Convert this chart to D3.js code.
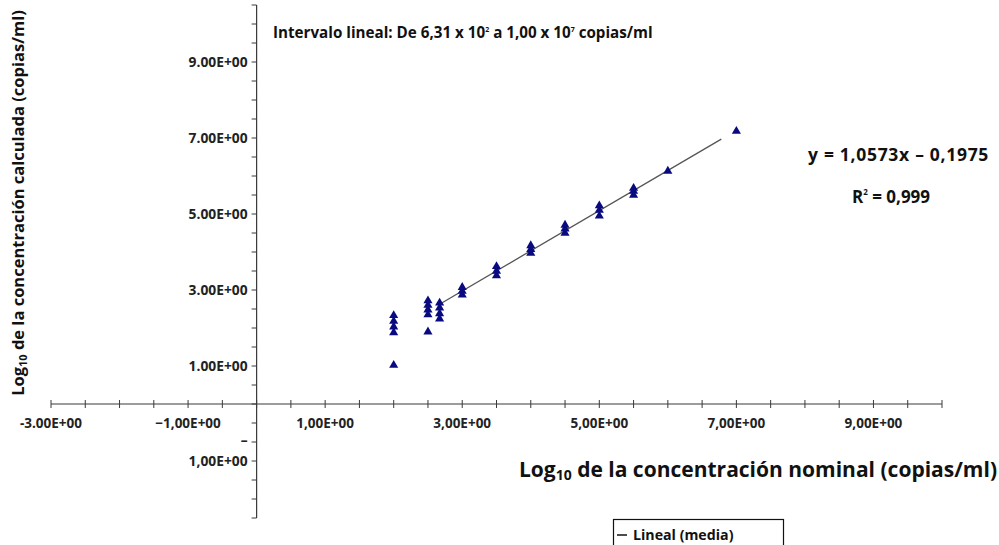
<!DOCTYPE html>
<html>
<head>
<meta charset="utf-8">
<script src="https://cdn.jsdelivr.net/npm/d3@7"></script>
<style>
  body { margin: 0; background: #fff; }
  svg { display: block; font-family: "Open Sans", Lato, sans-serif; font-weight: 700; }
</style>
</head>
<body>
<div id="chart"></div>
<script>
// nominal log10 concentration of each dilution level
var levels = [2.0, 2.5, 2.67, 3.0, 3.5, 4.0, 4.5, 5.0, 5.5, 6.0, 7.0];
// calculated log10 concentration of each replicate, per level
var replicates = [
  [2.33, 2.18, 2.03, 1.88, 1.02],
  [2.72, 2.6, 2.48, 2.35, 1.9],
  [2.66, 2.53, 2.38, 2.24],
  [3.07, 2.97, 2.87],
  [3.62, 3.5, 3.38],
  [4.17, 4.07, 3.97],
  [4.71, 4.61, 4.5],
  [5.22, 5.1, 4.95],
  [5.68, 5.6, 5.5],
  [6.13],
  [7.18]
];
// trendline "Lineal (media)"
var slope = 1.0573, intercept = -0.1975;
var trendX = [2.67, 6.78];

var xTickValues = [-3, -1, 1, 3, 5, 7, 9];
var xTickLabels = ["-3.00E+00", "\u22121,00E+00", "1,00E+00", "3,00E+00", "5,00E+00", "7,00E+00", "9,00E+00"];
var yTickValues = [9, 7, 5, 3, 1];
var yTickLabels = ["9.00E+00", "7.00E+00", "5.00E+00", "3.00E+00", "1.00E+00"];

var width = 999, height = 545;

var svg = d3.select('#chart').append('svg')
  .attr('width', width)
  .attr('height', height);

var x = d3.scaleLinear().domain([-3, 10]).range([51, 942]);
var y = d3.scaleLinear().domain([-3, 10.5]).range([518, 5]);

var axisColor = '#3a3a3a';

// minor ticks every 0.5
var xMinor = d3.range(-3, 10.01, 0.5);
var yMinor = d3.range(-3, 10.51, 0.5);

// x axis (crossing ticks)
var gx = svg.append('g');
gx.append('line')
  .attr('x1', x(-3)).attr('x2', x(10))
  .attr('y1', y(0)).attr('y2', y(0))
  .attr('stroke', axisColor).attr('stroke-width', 1.2);
gx.selectAll('line.tick').data(xMinor).enter().append('line')
  .attr('class', 'tick')
  .attr('x1', function(d) { return x(d); })
  .attr('x2', function(d) { return x(d); })
  .attr('y1', y(0) - 4).attr('y2', y(0) + 4)
  .attr('stroke', axisColor).attr('stroke-width', 1);
gx.selectAll('text').data(xTickValues).enter().append('text')
  .attr('x', function(d) { return x(d); })
  .attr('y', y(0) + 24)
  .attr('text-anchor', 'middle')
  .attr('font-size', 13.5)
  .attr('fill', '#222')
  .text(function(d, i) { return xTickLabels[i]; });

// y axis (ticks on the left)
var gy = svg.append('g');
gy.append('line')
  .attr('x1', x(0)).attr('x2', x(0))
  .attr('y1', y(-3)).attr('y2', y(10.5))
  .attr('stroke', axisColor).attr('stroke-width', 1.2);
gy.selectAll('line.tick').data(yMinor).enter().append('line')
  .attr('class', 'tick')
  .attr('x1', x(0) - 5).attr('x2', x(0))
  .attr('y1', function(d) { return y(d); })
  .attr('y2', function(d) { return y(d); })
  .attr('stroke', axisColor).attr('stroke-width', 1);
gy.selectAll('text').data(yTickValues).enter().append('text')
  .attr('x', x(0) - 9)
  .attr('y', function(d) { return y(d) + 5; })
  .attr('text-anchor', 'end')
  .attr('font-size', 13.8)
  .attr('fill', '#222')
  .text(function(d, i) { return yTickLabels[i]; });
// the negative label wraps onto two lines
gy.append('text')
  .attr('x', x(0) - 9)
  .attr('y', y(-1) + 3)
  .attr('text-anchor', 'end')
  .attr('font-size', 13.8)
  .attr('fill', '#222')
  .text('\u2013');
gy.append('text')
  .attr('x', x(0) - 9)
  .attr('y', y(-1) + 24)
  .attr('text-anchor', 'end')
  .attr('font-size', 13.8)
  .attr('fill', '#222')
  .text('1,00E+00');

// trendline
svg.append('line')
  .attr('x1', x(trendX[0])).attr('y1', y(slope * trendX[0] + intercept))
  .attr('x2', x(trendX[1])).attr('y2', y(slope * trendX[1] + intercept))
  .attr('stroke', '#555').attr('stroke-width', 1.3);

// points
var points = [];
levels.forEach(function(lv, i) {
  replicates[i].forEach(function(v) { points.push({x: lv, y: v}); });
});
var tri = d3.symbol().type(d3.symbolTriangle).size(36);
svg.append('g').selectAll('path').data(points).enter().append('path')
  .attr('d', tri)
  .attr('transform', function(d) { return 'translate(' + [x(d.x), y(d.y)] + ')'; })
  .attr('fill', '#0a0a80');

// annotation
var t = svg.append('text')
  .attr('x', 273).attr('y', 38)
  .attr('font-size', 15.2)
  .attr('fill', '#111');
t.append('tspan').text('Intervalo lineal: De 6,31 x 10');
t.append('tspan').attr('font-size', 7).attr('dy', -6).text('2');
t.append('tspan').attr('dy', 6).text(' a 1,00 x 10');
t.append('tspan').attr('font-size', 7).attr('dy', -6).text('7');
t.append('tspan').attr('dy', 6).text(' copias/ml');

// equation
svg.append('text')
  .attr('x', 808).attr('y', 161)
  .attr('font-size', 17.5)
  .attr('letter-spacing', 0.7)
  .attr('fill', '#111')
  .text('y = 1,0573x \u2013 0,1975');
var r = svg.append('text')
  .attr('x', 891).attr('y', 203)
  .attr('text-anchor', 'middle')
  .attr('font-size', 17)
  .attr('fill', '#111');
r.append('tspan').text('R');
r.append('tspan').attr('font-size', 8).attr('dy', -8).text('2');
r.append('tspan').attr('dy', 8).text(' = 0,999');

// axis titles
var xt = svg.append('text')
  .attr('x', 758).attr('y', 477)
  .attr('text-anchor', 'middle')
  .attr('font-size', 21)
  .attr('fill', '#111');
xt.append('tspan').text('Log');
xt.append('tspan').attr('font-size', 14).attr('dy', 3).text('10');
xt.append('tspan').attr('dy', -3).text(' de la concentración nominal (copias/ml)');

var yt = svg.append('text')
  .attr('transform', 'translate(24,203) rotate(-90)')
  .attr('text-anchor', 'middle')
  .attr('font-size', 16.5)
  .attr('fill', '#111');
yt.append('tspan').text('Log');
yt.append('tspan').attr('font-size', 11).attr('dy', 3).text('10');
yt.append('tspan').attr('dy', -3).text(' de la concentración calculada (copias/ml)');

// legend
var lg = svg.append('g');
lg.append('rect')
  .attr('x', 613.5).attr('y', 519.5)
  .attr('width', 170).attr('height', 40)
  .attr('fill', 'none').attr('stroke', '#111').attr('stroke-width', 1.2);
lg.append('line')
  .attr('x1', 617).attr('x2', 627)
  .attr('y1', 535).attr('y2', 535)
  .attr('stroke', '#111').attr('stroke-width', 1.5);
lg.append('text')
  .attr('x', 633).attr('y', 540)
  .attr('font-size', 14.2)
  .attr('fill', '#111')
  .text('Lineal (media)');
</script>
</body>
</html>
